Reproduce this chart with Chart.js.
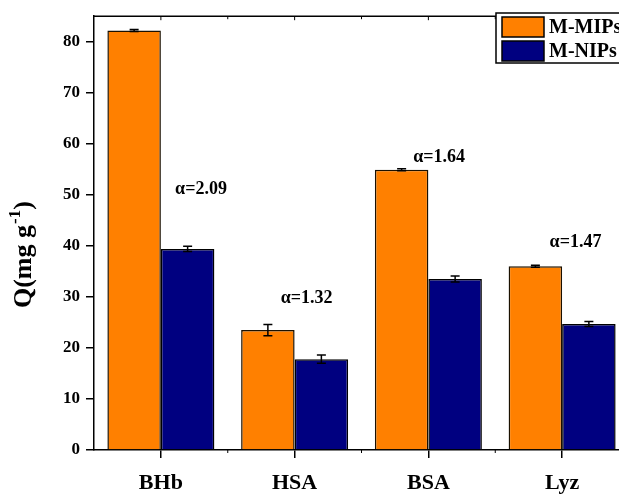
<!DOCTYPE html>
<html>
<head>
<meta charset="utf-8">
<script src="https://cdn.jsdelivr.net/npm/chart.js@4.4.0/dist/chart.umd.min.js"></script>
<style>
  html, body { margin: 0; padding: 0; overflow: hidden; background: #fff; }
</style>
</head>
<body>
<canvas id="myChart" width="629" height="495"></canvas>
<script>
const proteins = ['BHb', 'HSA', 'BSA', 'Lyz'];
const mipValues = [82.2, 23.5, 54.9, 36.0];
const mipErrors = [0.2, 1.1, 0.2, 0.2];
const nipValues = [39.4, 17.8, 33.5, 24.7];
const nipErrors = [0.5, 0.8, 0.6, 0.5];
const alphaLabels = ['α=2.09', 'α=1.32', 'α=1.64', 'α=1.47'];
const yTicks = [0, 10, 20, 30, 40, 50, 60, 70, 80];

const FONT = '"Liberation Serif", "Times New Roman", serif';

// error bars on top of every bar
const errorBars = {
    id: 'errorBars',
    afterDatasetsDraw(chart) {
        const ctx = chart.ctx;
        const y = chart.scales.y;
        ctx.save();
        ctx.strokeStyle = '#000';
        ctx.lineWidth = 1.5;
        chart.data.datasets.forEach((ds, di) => {
            chart.getDatasetMeta(di).data.forEach((bar, i) => {
                const top = y.getPixelForValue(ds.data[i] + ds.errors[i]);
                const bot = y.getPixelForValue(ds.data[i] - ds.errors[i]);
                ctx.beginPath();
                ctx.moveTo(bar.x, top); ctx.lineTo(bar.x, bot);
                ctx.moveTo(bar.x - 4.5, top); ctx.lineTo(bar.x + 4.5, top);
                ctx.moveTo(bar.x - 4.5, bot); ctx.lineTo(bar.x + 4.5, bot);
                ctx.stroke();
            });
        });
        ctx.restore();
    }
};

// frame, minor ticks, alpha labels, y title, legend box
const decorations = {
    id: 'decorations',
    afterDraw(chart, args, opts) {
        const ctx = chart.ctx;
        const {left, right, top, bottom} = chart.chartArea;
        const x = chart.scales.x;
        const y = chart.scales.y;
        ctx.save();
        ctx.strokeStyle = '#000';
        ctx.lineWidth = 1.5;
        ctx.beginPath();
        ctx.moveTo(left, top); ctx.lineTo(right, top); ctx.lineTo(right, bottom);
        ctx.stroke();

        // top ticks (inward) and bottom minor ticks
        ctx.lineWidth = 1;
        ctx.beginPath();
        for (let i = 0; i < proteins.length; i++) {
            const cx = x.getPixelForValue(i);
            ctx.moveTo(cx, top); ctx.lineTo(cx, top + 4);
            const mx = x.getPixelForValue(i + 0.5);
            ctx.moveTo(mx, top); ctx.lineTo(mx, top + 3);
            ctx.moveTo(mx, bottom); ctx.lineTo(mx, bottom + 3);
        }
        ctx.stroke();

        // selectivity labels
        ctx.fillStyle = '#000';
        ctx.font = 'bold 18px ' + FONT;
        ctx.textAlign = 'center';
        ctx.textBaseline = 'middle';
        alphaLabels.forEach((t, i) => {
            ctx.fillText(t, x.getPixelForValue(i + opts.alphaDx[i]), y.getPixelForValue(opts.alphaY[i]));
        });

        // y axis title with superscript
        ctx.save();
        ctx.translate(31, (top + bottom) / 2 + 22);
        ctx.rotate(-Math.PI / 2);
        ctx.textAlign = 'left';
        ctx.textBaseline = 'alphabetic';
        const main = 'Q(mg g';
        ctx.font = 'bold 26px ' + FONT;
        const w1 = ctx.measureText(main).width;
        const w3 = ctx.measureText(')').width;
        ctx.font = 'bold 17px ' + FONT;
        const w2 = ctx.measureText('-1').width;
        let sx = -(w1 + w2 + w3) / 2;
        ctx.font = 'bold 26px ' + FONT;
        ctx.fillText(main, sx, 0);
        sx += w1 + 1;
        ctx.font = 'bold 17px ' + FONT;
        ctx.fillText('-1', sx, -11);
        sx += w2;
        ctx.font = 'bold 26px ' + FONT;
        ctx.fillText(')', sx, 0);
        ctx.restore();

        // legend
        const lx = 496, ly = 13;
        ctx.fillStyle = '#fff';
        ctx.fillRect(lx, ly, 140, 50);
        ctx.lineWidth = 1.5;
        ctx.strokeRect(lx, ly, 140, 50);
        chart.data.datasets.forEach((ds, di) => {
            const sy = ly + 4 + di * 24;
            ctx.fillStyle = ds.backgroundColor;
            ctx.fillRect(lx + 6, sy, 42, 20);
            ctx.lineWidth = 1.5;
            ctx.strokeRect(lx + 6, sy, 42, 20);
            ctx.fillStyle = '#000';
            ctx.font = 'bold 20px ' + FONT;
            ctx.textAlign = 'left';
            ctx.textBaseline = 'middle';
            ctx.fillText(ds.label, lx + 53, sy + 11);
        });
        ctx.restore();
    }
};

const myChart = new Chart(document.getElementById('myChart'), {
    type: 'bar',
    data: {
        labels: proteins,
        datasets: [{
            label: 'M-MIPs',
            data: mipValues,
            errors: mipErrors,
            backgroundColor: '#FF8000',
            borderColor: '#1a1000',
            borderWidth: 1.5,
            categoryPercentage: 0.8,
            barPercentage: 1
        }, {
            label: 'M-NIPs',
            data: nipValues,
            errors: nipErrors,
            backgroundColor: '#000080',
            borderColor: '#000',
            borderWidth: 1.5,
            categoryPercentage: 0.8,
            barPercentage: 1
        }]
    },
    options: {
        responsive: false,
        animation: false,
        devicePixelRatio: 1,
        layout: { padding: { top: 13, left: 0, right: 0, bottom: 0 } },
        plugins: {
            legend: { display: false },
            tooltip: { enabled: false },
            decorations: {
                alphaDx: [0.3, 0.09, 0.08, 0.1],
                alphaY: [51.0, 29.7, 57.4, 40.7]
            }
        },
        scales: {
            x: {
                offset: true,
                grid: { offset: false, drawOnChartArea: false, drawTicks: true, tickLength: 8, color: '#000', lineWidth: 1.5 },
                border: { display: true, color: '#000', width: 1.5 },
                ticks: { font: { family: FONT, size: 22, weight: 'bold' }, color: '#000', padding: 12, maxRotation: 0 },
                afterFit(s) { s.height = 45; }
            },
            y: {
                min: 0,
                max: 85,
                afterBuildTicks(s) { s.ticks = yTicks.map(v => ({ value: v })); },
                grid: { drawOnChartArea: false, drawTicks: true, tickLength: 8, color: '#000', lineWidth: 1.5 },
                border: { display: true, color: '#000', width: 1.5 },
                ticks: { font: { family: FONT, size: 17, weight: 'bold' }, color: '#000', padding: 6 },
                afterFit(s) { s.width = 94; }
            }
        }
    },
    plugins: [errorBars, decorations]
});
</script>
</body>
</html>
